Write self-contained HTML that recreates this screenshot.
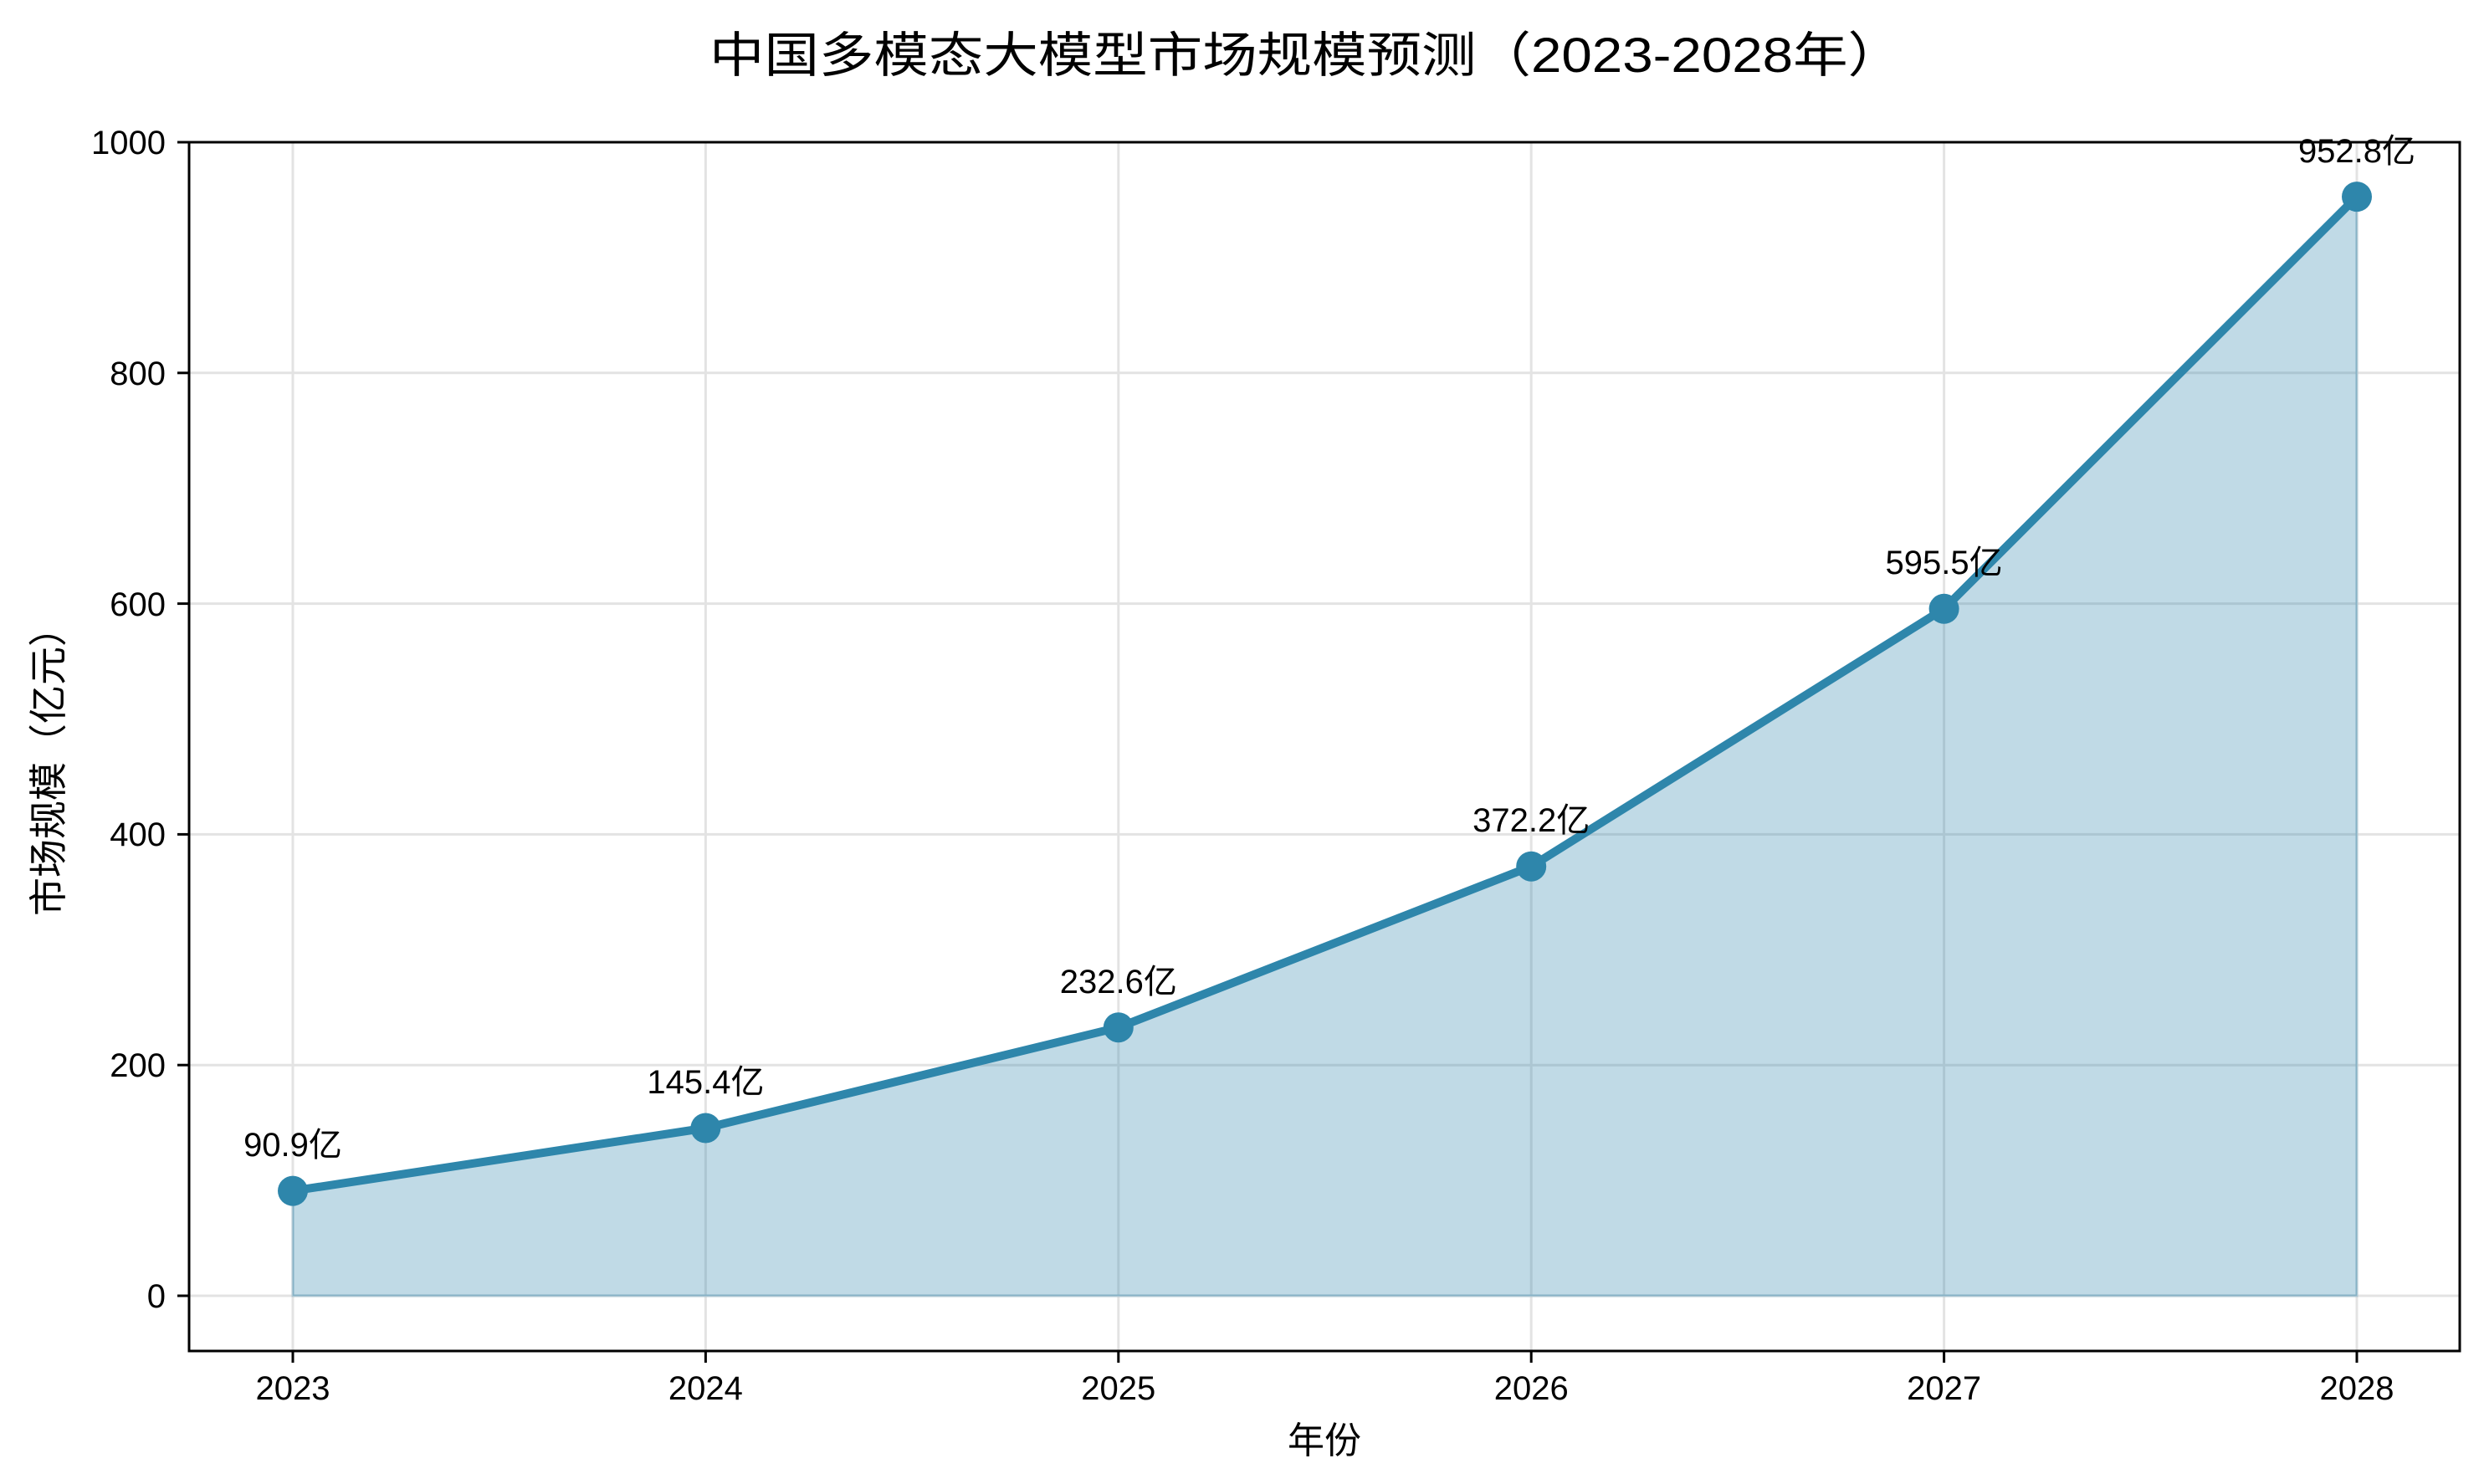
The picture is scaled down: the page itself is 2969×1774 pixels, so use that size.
<!DOCTYPE html>
<html><head><meta charset="utf-8"><style>html,body{margin:0;padding:0;background:#fff}svg{display:block}</style></head>
<body>
<svg width="2969" height="1774" viewBox="0 0 2969 1774" xmlns="http://www.w3.org/2000/svg" font-family="'Liberation Sans','Noto Sans CJK SC',sans-serif">
<rect width="2969" height="1774" fill="#fff"/>
<g stroke="#e3e3e3" stroke-width="3">
<line x1="350" y1="170" x2="350" y2="1615"/>
<line x1="843.4" y1="170" x2="843.4" y2="1615"/>
<line x1="1336.8" y1="170" x2="1336.8" y2="1615"/>
<line x1="1830.2" y1="170" x2="1830.2" y2="1615"/>
<line x1="2323.6" y1="170" x2="2323.6" y2="1615"/>
<line x1="2817" y1="170" x2="2817" y2="1615"/>
<line x1="226" y1="1549" x2="2940" y2="1549"/>
<line x1="226" y1="1273.2" x2="2940" y2="1273.2"/>
<line x1="226" y1="997.4" x2="2940" y2="997.4"/>
<line x1="226" y1="721.6" x2="2940" y2="721.6"/>
<line x1="226" y1="445.8" x2="2940" y2="445.8"/>
</g>
<polygon points="350,1549 350,1423.6 843.4,1348.5 1336.8,1228.2 1830.2,1035.7 2323.6,727.8 2817,235.1 2817,1549" fill="#2e86ab" fill-opacity="0.3" stroke="#2e86ab" stroke-opacity="0.3" stroke-width="3"/>
<polyline points="350,1423.6 843.4,1348.5 1336.8,1228.2 1830.2,1035.7 2323.6,727.8 2817,235.1" fill="none" stroke="#2e86ab" stroke-width="10" stroke-linejoin="round"/>
<g fill="#2e86ab">
<circle cx="350" cy="1423.6" r="18"/>
<circle cx="843.4" cy="1348.5" r="18"/>
<circle cx="1336.8" cy="1228.2" r="18"/>
<circle cx="1830.2" cy="1035.7" r="18"/>
<circle cx="2323.6" cy="727.8" r="18"/>
<circle cx="2817" cy="235.1" r="18"/>
</g>
<g font-size="40" text-anchor="middle" fill="#000">
<text x="350" y="1382">90.9亿</text>
<text x="843.4" y="1307">145.4亿</text>
<text x="1336.8" y="1187">232.6亿</text>
<text x="1830.2" y="994">372.2亿</text>
<text x="2323.6" y="686">595.5亿</text>
<text x="2817" y="194">952.8亿</text>
</g>
<rect x="226" y="170" width="2714" height="1445" fill="none" stroke="#000" stroke-width="3"/>
<g stroke="#000" stroke-width="3">
<line x1="350" y1="1615" x2="350" y2="1629"/>
<line x1="843.4" y1="1615" x2="843.4" y2="1629"/>
<line x1="1336.8" y1="1615" x2="1336.8" y2="1629"/>
<line x1="1830.2" y1="1615" x2="1830.2" y2="1629"/>
<line x1="2323.6" y1="1615" x2="2323.6" y2="1629"/>
<line x1="2817" y1="1615" x2="2817" y2="1629"/>
<line x1="212" y1="1549" x2="226" y2="1549"/>
<line x1="212" y1="1273.2" x2="226" y2="1273.2"/>
<line x1="212" y1="997.4" x2="226" y2="997.4"/>
<line x1="212" y1="721.6" x2="226" y2="721.6"/>
<line x1="212" y1="445.8" x2="226" y2="445.8"/>
<line x1="212" y1="170" x2="226" y2="170"/>
</g>
<g font-size="40" fill="#000" text-anchor="middle">
<text x="350" y="1673">2023</text>
<text x="843.4" y="1673">2024</text>
<text x="1336.8" y="1673">2025</text>
<text x="1830.2" y="1673">2026</text>
<text x="2323.6" y="1673">2027</text>
<text x="2817" y="1673">2028</text>
</g>
<g font-size="40" fill="#000" text-anchor="end">
<text x="198" y="1563">0</text>
<text x="198" y="1287">200</text>
<text x="198" y="1011">400</text>
<text x="198" y="736">600</text>
<text x="198" y="460">800</text>
<text x="198" y="184">1000</text>
</g>
<text x="1583" y="1737" font-size="44" text-anchor="middle">年份</text>
<text transform="translate(74,911) rotate(-90)" font-size="46" text-anchor="middle">市场规模（亿元）</text>
<text x="848" y="86" font-size="58" textLength="1426" lengthAdjust="spacingAndGlyphs">中国多模态大模型市场规模预测（2023-2028年）</text>
</svg>
</body></html>
